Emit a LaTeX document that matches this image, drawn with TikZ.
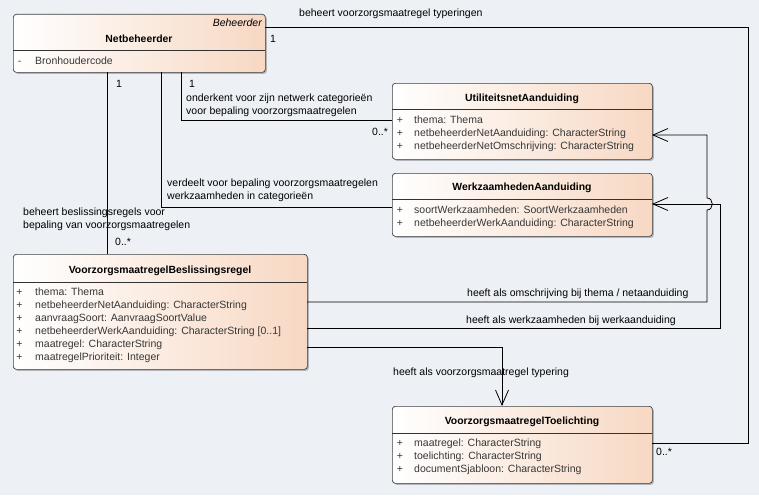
\documentclass[tikz,border=0pt]{standalone}
\usepackage{fontspec}
\setmainfont{Liberation Sans}
\usetikzlibrary{arrows.meta,shadows}
\definecolor{bgc}{RGB}{237,241,246}
\definecolor{peach}{RGB}{247,216,195}
\definecolor{attrc}{RGB}{55,55,55}
\begin{document}
\begin{tikzpicture}[x=1pt,y=-1pt,
  umlbox/.style={draw=black!75, line width=0.7pt, rounded corners=3pt, left color=white, right color=peach,
    anchor=north west, inner sep=0pt,
    drop shadow={shadow xshift=1.5pt, shadow yshift=-1.5pt, opacity=0.25, fill=black}},
  divline/.style={draw=black!80, line width=0.7pt},
  txt/.style={inner sep=0pt, font=\fontsize{10.5}{13}\selectfont},
  title/.style={txt, anchor=base, font=\fontsize{10.4}{13}\selectfont\bfseries},
  attr/.style={txt, anchor=base west, text=attrc},
  vis/.style={txt, anchor=base, text=attrc},
  lbl/.style={txt, anchor=base west},
  conn/.style={draw=black, line width=0.8pt},
  openarrow/.style={-{Straight Barb[length=15pt,width=13pt,line width=0.8pt]}}
]
\fill[bgc] (0,0) rectangle (759,495);
\useasboundingbox (0,0) rectangle (759,495);

% ---------- boxes ----------
\node[umlbox, minimum width=252pt, minimum height=58pt] (net) at (13,14) {};
\node[umlbox, minimum width=260pt, minimum height=76pt] (util) at (392,83) {};
\node[umlbox, minimum width=260pt, minimum height=63pt] (werk) at (392,173) {};
\node[umlbox, minimum width=294pt, minimum height=115pt] (besl) at (13,254) {};
\node[umlbox, minimum width=260pt, minimum height=77pt] (toel) at (392,406) {};

\draw[divline] (13,50) -- (265,50);
\draw[divline] (392,109) -- (652,109);
\draw[divline] (392,199) -- (652,199);
\draw[divline] (13,282) -- (307,282);
\draw[divline] (392,433) -- (652,433);

% ---------- Netbeheerder ----------
\node[txt, anchor=base east, font=\fontsize{10.5}{13}\selectfont\itshape] (netst) at (262,27) {Beheerder};
\node[title] (nett) at (139,42) {Netbeheerder};
\node[vis] (netv1) at (19.5,64.5) {-};
\node[attr] (neta1) at (35,64.5) {Bronhoudercode};

% ---------- UtiliteitsnetAanduiding ----------
\node[title] (utilt) at (522,101) {UtiliteitsnetAanduiding};
\node[vis] (utilv1) at (400,123) {+};
\node[vis] (utilv2) at (400,136) {+};
\node[vis] (utilv3) at (400,149) {+};
\node[attr] (utila1) at (414,123) {thema: Thema};
\node[attr] (utila2) at (414,136) {netbeheerderNetAanduiding: CharacterString};
\node[attr] (utila3) at (414,149) {netbeheerderNetOmschrijving: CharacterString};

% ---------- WerkzaamhedenAanduiding ----------
\node[title] (werkt) at (522,190) {WerkzaamhedenAanduiding};
\node[vis] (werkv1) at (400,213.5) {+};
\node[vis] (werkv2) at (400,226.5) {+};
\node[attr] (werka1) at (414,213.5) {soortWerkzaamheden: SoortWerkzaamheden};
\node[attr] (werka2) at (414,226.5) {netbeheerderWerkAanduiding: CharacterString};

% ---------- VoorzorgsmaatregelBeslissingsregel ----------
\node[title] (beslt) at (160,273) {VoorzorgsmaatregelBeslissingsregel};
\foreach \i/\yy in {1/295.5,2/308.4,3/321.3,4/334.2,5/347.1,6/360}{
  \node[vis] (beslv\i) at (19.5,\yy) {+};
}
\node[attr] (besla1) at (35,295.5) {thema: Thema};
\node[attr] (besla2) at (35,308.4) {netbeheerderNetAanduiding: CharacterString};
\node[attr] (besla3) at (35,321.3) {aanvraagSoort: AanvraagSoortValue};
\node[attr] (besla4) at (35,334.2) {netbeheerderWerkAanduiding: CharacterString [0..1]};
\node[attr] (besla5) at (35,347.1) {maatregel: CharacterString};
\node[attr] (besla6) at (35,360) {maatregelPrioriteit: Integer};

% ---------- VoorzorgsmaatregelToelichting ----------
\node[title] (toelt) at (522,424) {VoorzorgsmaatregelToelichting};
\node[vis] (toelv1) at (400,446) {+};
\node[vis] (toelv2) at (400,459) {+};
\node[vis] (toelv3) at (400,472) {+};
\node[attr] (toela1) at (414,446) {maatregel: CharacterString};
\node[attr] (toela2) at (414,459) {toelichting: CharacterString};
\node[attr] (toela3) at (414,472) {documentSjabloon: CharacterString};

% ---------- connector end points ----------
\coordinate (netE) at (265,27);
\coordinate (netS1) at (107,72);
\coordinate (netS2) at (161,72);
\coordinate (netS3) at (181,72);
\coordinate (utilW) at (392,120);
\coordinate (utilE) at (652,135);
\coordinate (werkW) at (392,207);
\coordinate (werkE) at (652,204);
\coordinate (beslN) at (107,254);
\coordinate (beslE1) at (307,302);
\coordinate (beslE2) at (307,328);
\coordinate (beslE3) at (307,347);
\coordinate (toelN) at (502,406);
\coordinate (toelE) at (652,443);
% bends
\coordinate (k1) at (748,27);
\coordinate (k2) at (748,443);
\coordinate (k3) at (181,120);
\coordinate (k4) at (161,207);
\coordinate (k5) at (707,302);
\coordinate (k6a) at (707,210);
\coordinate (k6b) at (707,198);
\coordinate (k7) at (707,135);
\coordinate (k8) at (720,328);
\coordinate (k9) at (720,204);
\coordinate (k10) at (502,347);

% ---------- connectors ----------
\draw[conn] (netE) -- (k1) -- (k2) -- (toelE);
\draw[conn] (netS3) -- (k3) -- (utilW);
\draw[conn] (netS2) -- (k4) -- (werkW);
\draw[conn] (netS1) -- (beslN);
\draw[conn, openarrow] (beslE1) -- (k5) -- (k6a) .. controls (714,210) and (714,198) .. (k6b) -- (k7) -- (utilE);
\draw[conn, openarrow] (beslE2) -- (k8) -- (k9) -- (werkE);
\draw[conn, openarrow] (beslE3) -- (k10) -- (toelN);

% ---------- connector labels ----------
\node[lbl] (l1) at (299,17) {beheert voorzorgsmaatregel typeringen};
\node[lbl] (m1) at (270,42) {1};
\node[lbl] (m2) at (656,455) {0..*};
\node[lbl] (m3) at (116,87) {1};
\node[lbl] (m4) at (189,87) {1};
\node[lbl] (l2a) at (186,101) {onderkent voor zijn netwerk categorieën};
\node[lbl] (l2b) at (186,114) {voor bepaling voorzorgsmaatregelen};
\node[lbl] (m5) at (372,135) {0..*};
\node[lbl] (l3a) at (167,186) {verdeelt voor bepaling voorzorgsmaatregelen};
\node[lbl] (l3b) at (167,199) {werkzaamheden in categorieën};
\node[lbl] (l4a) at (23,215) {beheert beslissingsregels voor};
\node[lbl] (l4b) at (23,228) {bepaling van voorzorgsmaatregelen};
\node[lbl] (m6) at (115,245) {0..*};
\node[lbl] (l5) at (467,296) {heeft als omschrijving bij thema / netaanduiding};
\node[lbl] (l6) at (466,323) {heeft als werkzaamheden bij werkaanduiding};
\node[lbl] (l7) at (393,375) {heeft als voorzorgsmaatregel typering};
\end{tikzpicture}
\end{document}
